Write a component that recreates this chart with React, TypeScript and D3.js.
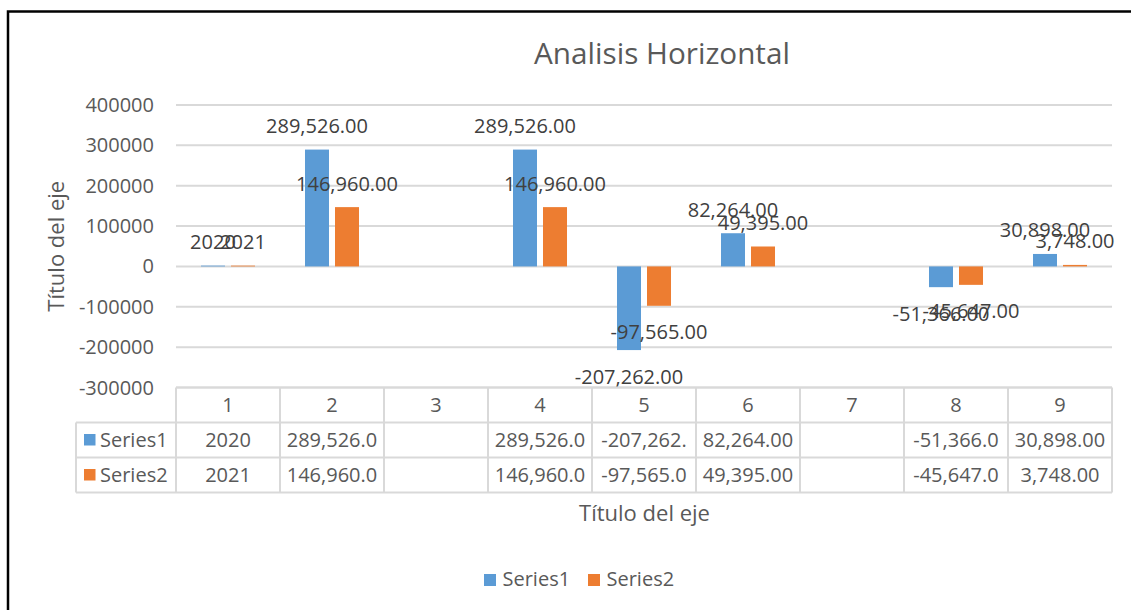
import React from "react";
import * as d3 from "d3";

const title = "Analisis Horizontal";
const xAxisTitle = "Título del eje";
const yAxisTitle = "Título del eje";
const categories = ["1", "2", "3", "4", "5", "6", "7", "8", "9"];
const seriesNames = ["Series1", "Series2"];
const series1 = [2020, 289526, null, 289526, -207262, 82264, null, -51366, 30898];
const series2 = [2021, 146960, null, 146960, -97565, 49395, null, -45647, 3748];
const seriesColors = ["#5B9BD5", "#ED7D31"];
const yTicks = [400000, 300000, 200000, 100000, 0, -100000, -200000, -300000];
const generalFormatCategories = ["1"];

const W = 1131;
const H = 610;
const FONT = '"Open Sans", "DejaVu Sans", sans-serif';

const locale = d3.formatLocale({
  decimal: ".",
  thousands: ",",
  grouping: [3],
  currency: ["$", ""],
  minus: "-",
});
const numFmt = locale.format(",.2f");

let ctx: CanvasRenderingContext2D | null = null;
function measure(text: string, size: number) {
  if (!ctx) {
    const c = document.createElement("canvas");
    ctx = c.getContext("2d");
  }
  if (!ctx) return text.length * size * 0.55;
  ctx.font = `${size}px "Open Sans"`;
  return ctx.measureText(text).width;
}

function fmt(cat: string, v: number | null) {
  if (v === null) return "";
  if (generalFormatCategories.includes(cat)) return String(v);
  return numFmt(v);
}

function truncate(text: string, maxW: number, size: number) {
  let t = text;
  while (t.length > 0 && measure(t, size) > maxW) t = t.slice(0, -1);
  return t;
}

export default function App() {
  const plotLeft = 176;
  const plotRight = 1112;
  const yTop = 105;
  const yBottom = 387.5;

  const y = d3.scaleLinear().domain([-300000, 400000]).range([yBottom, yTop]);
  const x = d3.scaleBand<string>().domain(categories).range([plotLeft, plotRight]).padding(0);
  const inner = d3
    .scaleBand<string>()
    .domain(seriesNames)
    .range([0, x.bandwidth()])
    .paddingInner(0.2)
    .paddingOuter(0.833);

  const allSeries = [series1, series2];
  const textColor = "#595959";
  const labelColor = "#404040";
  const gridColor = "#D9D9D9";

  const tableTop = yBottom;
  const rowH = 35;
  const rowLabelLeft = 76;

  return (
    <svg
      width={W}
      height={H}
      style={{ position: "absolute", left: 0, top: 0, background: "#fff" }}
      fontFamily={FONT}
    >
      <rect x={0} y={0} width={W} height={H} fill="#fff" />
      {/* outer frame */}
      <rect x={8} y={11.5} width={1300} height={800} fill="none" stroke="#000" strokeWidth={2.5} />

      {/* title */}
      <text x={662} y={64} textAnchor="middle" fontSize={29.7} fill={textColor}>
        {title}
      </text>

      {/* gridlines */}
      {yTicks.map((t) => (
        <line
          key={"g" + t}
          x1={plotLeft}
          x2={plotRight}
          y1={y(t)}
          y2={y(t)}
          stroke={gridColor}
          strokeWidth={2}
        />
      ))}

      {/* y tick labels */}
      {yTicks.map((t) => (
        <text key={"t" + t} x={154} y={y(t) + 7} textAnchor="end" fontSize={20} fill={textColor}>
          {String(t)}
        </text>
      ))}

      {/* y axis title */}
      <text
        transform={`translate(${64},${(yTop + yBottom) / 2}) rotate(-90)`}
        textAnchor="middle"
        fontSize={22}
        fill={textColor}
      >
        {yAxisTitle}
      </text>

      {/* bars */}
      {allSeries.map((s, si) =>
        s.map((v, ci) => {
          if (v === null) return null;
          const cat = categories[ci];
          const bx = (x(cat) as number) + (inner(seriesNames[si]) as number);
          const y0 = y(0);
          const yv = y(v);
          return (
            <rect
              key={`b${si}-${ci}`}
              x={bx}
              y={Math.min(y0, yv)}
              width={inner.bandwidth()}
              height={Math.abs(yv - y0)}
              fill={seriesColors[si]}
            />
          );
        })
      )}

      {/* data labels */}
      {allSeries.map((s, si) =>
        s.map((v, ci) => {
          if (v === null) return null;
          const cat = categories[ci];
          const cx = (x(cat) as number) + (inner(seriesNames[si]) as number) + inner.bandwidth() / 2;
          const yv = y(v);
          const ty = v >= 0 ? yv - 16.5 : yv + 33.5;
          return (
            <text
              key={`l${si}-${ci}`}
              x={cx}
              y={ty}
              textAnchor="middle"
              fontSize={20}
              fill={labelColor}
            >
              {fmt(cat, v)}
            </text>
          );
        })
      )}

      {/* data table */}
      <g>
        <line x1={plotLeft} x2={plotRight} y1={tableTop} y2={tableTop} stroke={gridColor} strokeWidth={2} />
        <line x1={rowLabelLeft} x2={plotRight} y1={tableTop + rowH} y2={tableTop + rowH} stroke={gridColor} strokeWidth={2} />
        <line x1={rowLabelLeft} x2={plotRight} y1={tableTop + 2 * rowH} y2={tableTop + 2 * rowH} stroke={gridColor} strokeWidth={2} />
        <line x1={rowLabelLeft} x2={plotRight} y1={tableTop + 3 * rowH} y2={tableTop + 3 * rowH} stroke={gridColor} strokeWidth={2} />
        <line x1={rowLabelLeft} x2={rowLabelLeft} y1={tableTop + rowH} y2={tableTop + 3 * rowH} stroke={gridColor} strokeWidth={2} />
        {categories.map((c) => (
          <line
            key={"v" + c}
            x1={x(c) as number}
            x2={x(c) as number}
            y1={tableTop}
            y2={tableTop + 3 * rowH}
            stroke={gridColor}
            strokeWidth={2}
          />
        ))}
        <line x1={plotRight} x2={plotRight} y1={tableTop} y2={tableTop + 3 * rowH} stroke={gridColor} strokeWidth={2} />

        {categories.map((c) => (
          <text
            key={"h" + c}
            x={(x(c) as number) + x.bandwidth() / 2}
            y={tableTop + rowH / 2 + 7}
            textAnchor="middle"
            fontSize={20}
            fill={textColor}
          >
            {c}
          </text>
        ))}

        {allSeries.map((s, si) => {
          const rowY = tableTop + (si + 1) * rowH;
          return (
            <g key={"r" + si}>
              <rect x={84} y={rowY + rowH / 2 - 6} width={11.5} height={11.5} fill={seriesColors[si]} />
              <text x={100} y={rowY + rowH / 2 + 7} fontSize={20} fill={textColor}>
                {seriesNames[si]}
              </text>
              {s.map((v, ci) => {
                const cat = categories[ci];
                const txt = truncate(fmt(cat, v), x.bandwidth() - 10, 20);
                return (
                  <text
                    key={`c${si}-${ci}`}
                    x={(x(cat) as number) + x.bandwidth() / 2}
                    y={rowY + rowH / 2 + 7}
                    textAnchor="middle"
                    fontSize={20}
                    fill={textColor}
                  >
                    {txt}
                  </text>
                );
              })}
            </g>
          );
        })}
      </g>

      {/* x axis title */}
      <text x={644.5} y={521} textAnchor="middle" fontSize={22} fill={textColor}>
        {xAxisTitle}
      </text>

      {/* legend */}
      {seriesNames.map((n, i) => {
        const lx = [484, 588][i];
        return (
          <g key={"lg" + n}>
            <rect x={lx} y={574} width={12} height={12} fill={seriesColors[i]} />
            <text x={lx + 18.5} y={586} fontSize={20} fill={textColor}>
              {n}
            </text>
          </g>
        );
      })}
    </svg>
  );
}
